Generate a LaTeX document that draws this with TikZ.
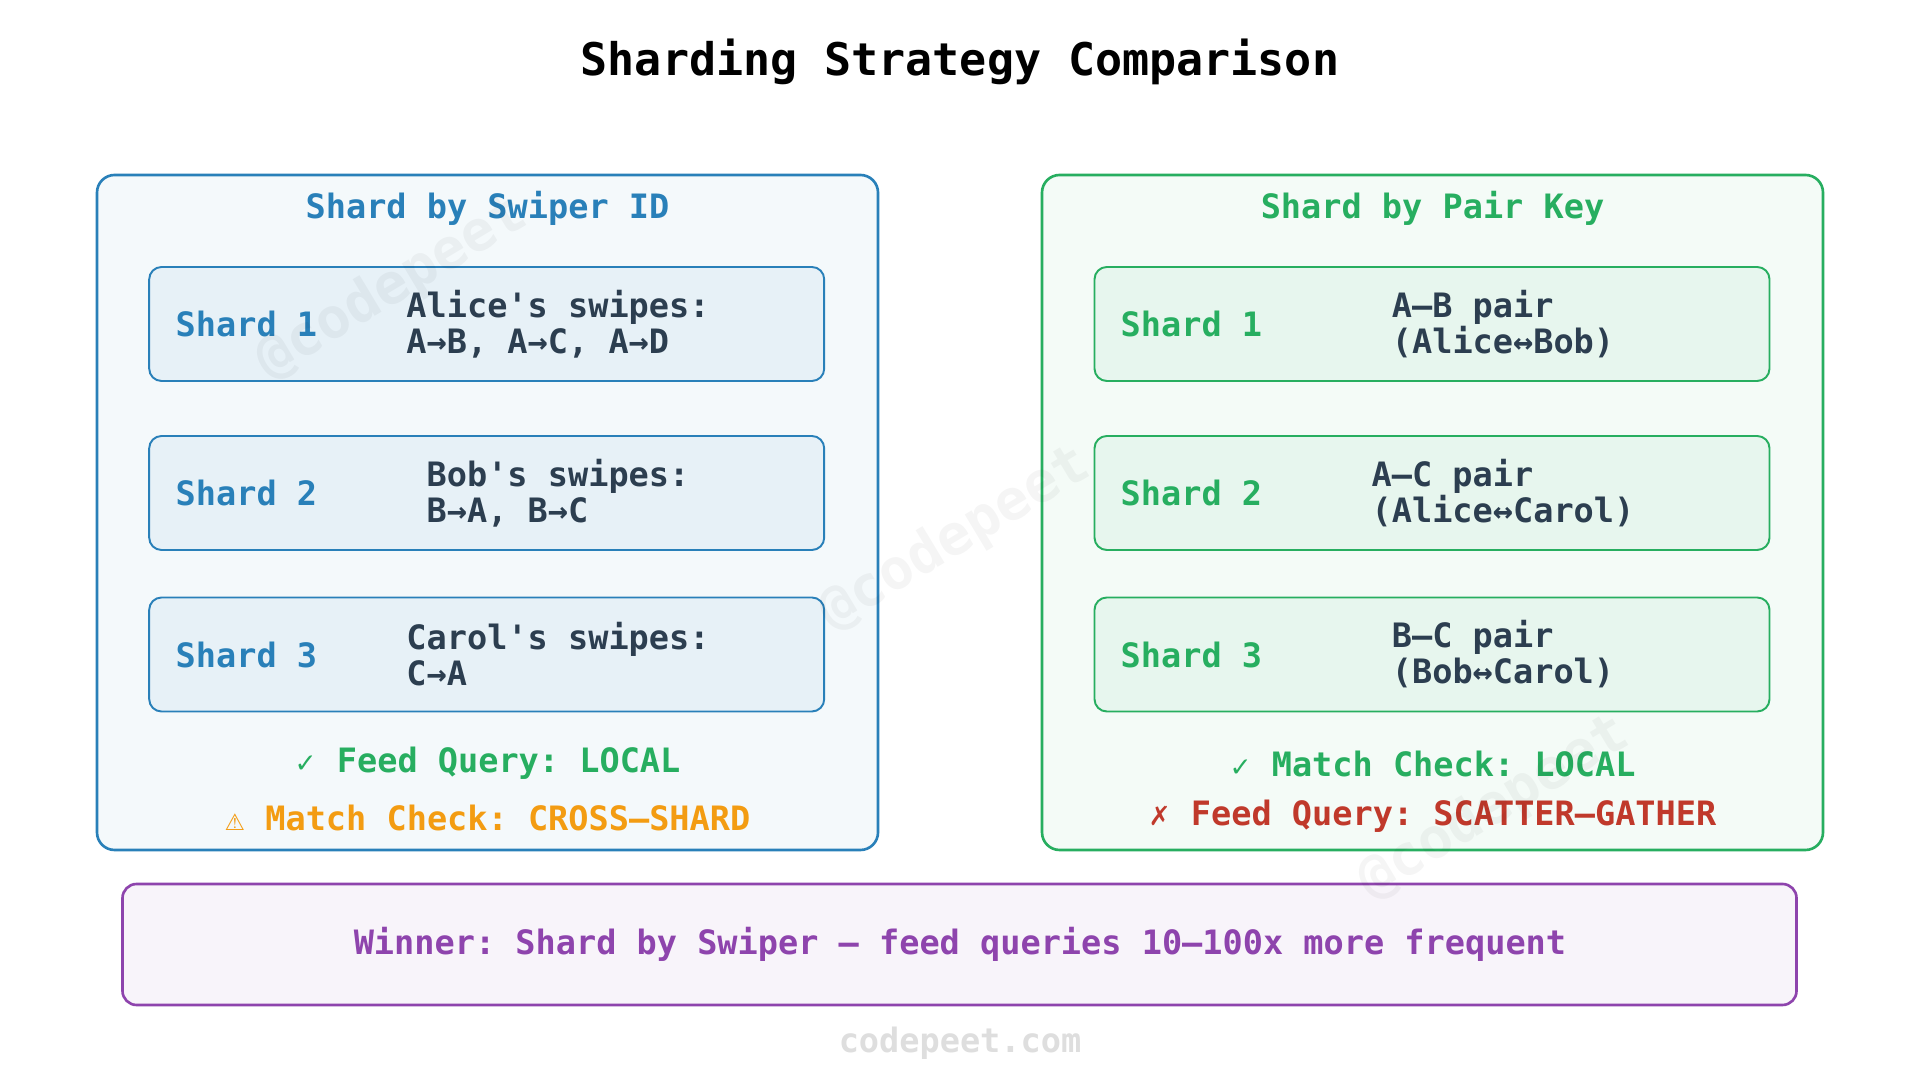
\documentclass[tikz,border=0pt]{standalone}
\usepackage{fontspec}
\newfontfamily\dejamono{DejaVu Sans Mono}
\newfontfamily\dejasym{DejaVu Sans}
\definecolor{swiperblue}{HTML}{2980B9}
\definecolor{pairgreen}{HTML}{27AE60}
\definecolor{warnorange}{HTML}{F39C12}
\definecolor{failred}{HTML}{C0392B}
\definecolor{inkdark}{HTML}{2C3E50}
\definecolor{winpurple}{HTML}{8E44AD}
\frenchspacing
\newcommand{\titlefont}{\dejamono\bfseries\fontsize{12.8}{14}\selectfont}
\newcommand{\bodyfont}{\dejamono\bfseries\fontsize{9.55}{10.25}\selectfont}
\newcommand{\okmark}{{\dejasym\mdseries\fontsize{7.5}{8}\selectfont ✓}}
\newcommand{\warnmark}{{\dejasym\mdseries\fontsize{6.5}{8}\selectfont ⚠}}
\newcommand{\failmark}{{\dejasym\mdseries\fontsize{7.5}{8}\selectfont ✗}}

\begin{document}
\begin{tikzpicture}[
    panel/.style={draw,rounded corners=5pt,line width=0.75pt,minimum width=7.81cm,minimum height=6.75cm},
    shardbox/.style={draw,rounded corners=3.5pt,line width=0.55pt,minimum width=6.75cm,minimum height=1.14cm},
    txt/.style={inner sep=0pt,font=\bodyfont},
    swipes/.style={txt,text=inkdark,align=left}]
  \fill[white] (0,0) rectangle (19.2,10.8);
  \useasboundingbox (0,0) rectangle (19.2,10.8);
  \node[txt,font=\titlefont] (title) at (9.6,10.185) {Sharding Strategy Comparison};
  % left panel: by swiper
  \node[panel,draw=swiperblue,fill=swiperblue!5] (swiper) at (4.875,5.675) {};
  \node[txt,text=swiperblue] (swipertitle) at (4.875,8.72) {Shard by Swiper ID};
  \node[shardbox,draw=swiperblue,fill=swiperblue!11] (s1) at (4.867,7.56) {};
  \node[shardbox,draw=swiperblue,fill=swiperblue!11] (s2) at (4.867,5.87) {};
  \node[shardbox,draw=swiperblue,fill=swiperblue!11] (s3) at (4.867,4.255) {};
  \node[txt,text=swiperblue,anchor=west] (s1lab) at (1.75,7.56) {Shard 1};
  \node[txt,text=swiperblue,anchor=west] (s2lab) at (1.75,5.87) {Shard 2};
  \node[txt,text=swiperblue,anchor=west] (s3lab) at (1.75,4.255) {Shard 3};
  \node[swipes] (s1txt) at (5.58,7.56) {Alice's swipes:\\A→B, A→C, A→D};
  \node[swipes] (s2txt) at (5.58,5.87) {Bob's swipes:\\B→A, B→C};
  \node[swipes] (s3txt) at (5.58,4.255) {Carol's swipes:\\C→A};
  \node[txt,text=pairgreen] (swiperok) at (4.875,3.165) {\okmark\ Feed Query: LOCAL};
  \node[txt,text=warnorange] (swiperwarn) at (4.875,2.62) {\warnmark\ Match Check: CROSS–SHARD};
  % right panel: by pair key
  \node[panel,draw=pairgreen,fill=pairgreen!5] (pair) at (14.325,5.675) {};
  \node[txt,text=pairgreen] (pairtitle) at (14.325,8.72) {Shard by Pair Key};
  \node[shardbox,draw=pairgreen,fill=pairgreen!11] (p1) at (14.32,7.56) {};
  \node[shardbox,draw=pairgreen,fill=pairgreen!11] (p2) at (14.32,5.87) {};
  \node[shardbox,draw=pairgreen,fill=pairgreen!11] (p3) at (14.32,4.255) {};
  \node[txt,text=pairgreen,anchor=west] (p1lab) at (11.20,7.56) {Shard 1};
  \node[txt,text=pairgreen,anchor=west] (p2lab) at (11.20,5.87) {Shard 2};
  \node[txt,text=pairgreen,anchor=west] (p3lab) at (11.20,4.255) {Shard 3};
  \node[swipes] (p1txt) at (15.03,7.56) {A–B pair\\(Alice↔Bob)};
  \node[swipes] (p2txt) at (15.03,5.87) {A–C pair\\(Alice↔Carol)};
  \node[swipes] (p3txt) at (15.03,4.255) {B–C pair\\(Bob↔Carol)};
  \node[txt,text=pairgreen] (pairok) at (14.325,3.165) {\okmark\ Match Check: LOCAL};
  \node[txt,text=failred] (pairfail) at (14.325,2.635) {\failmark\ Feed Query: SCATTER–GATHER};
  % verdict
  \node[draw=winpurple,fill=winpurple!6,line width=0.75pt,rounded corners=4pt,
        minimum width=16.74cm,minimum height=1.21cm] (winner) at (9.595,1.355) {};
  \node[txt,text=winpurple] (winnertxt) at (9.6,1.36)
    {Winner: Shard by Swiper — feed queries 10–100x more frequent};
  \node[txt,text=black!13] (footer) at (9.6,0.37) {codepeet.com};
  % faint watermarks
  \node[txt,font=\dejamono\bfseries\fontsize{16}{18}\selectfont,text=black,opacity=0.04,rotate=31] (wm1) at (3.92,7.92) {@codepeet};
  \node[txt,font=\dejamono\bfseries\fontsize{16}{18}\selectfont,text=black,opacity=0.04,rotate=31] (wm2) at (9.55,5.41) {@codepeet};
  \node[txt,font=\dejamono\bfseries\fontsize{16}{18}\selectfont,text=black,opacity=0.04,rotate=31] (wm3) at (14.94,2.72) {@codepeet};
\end{tikzpicture}
\end{document}
